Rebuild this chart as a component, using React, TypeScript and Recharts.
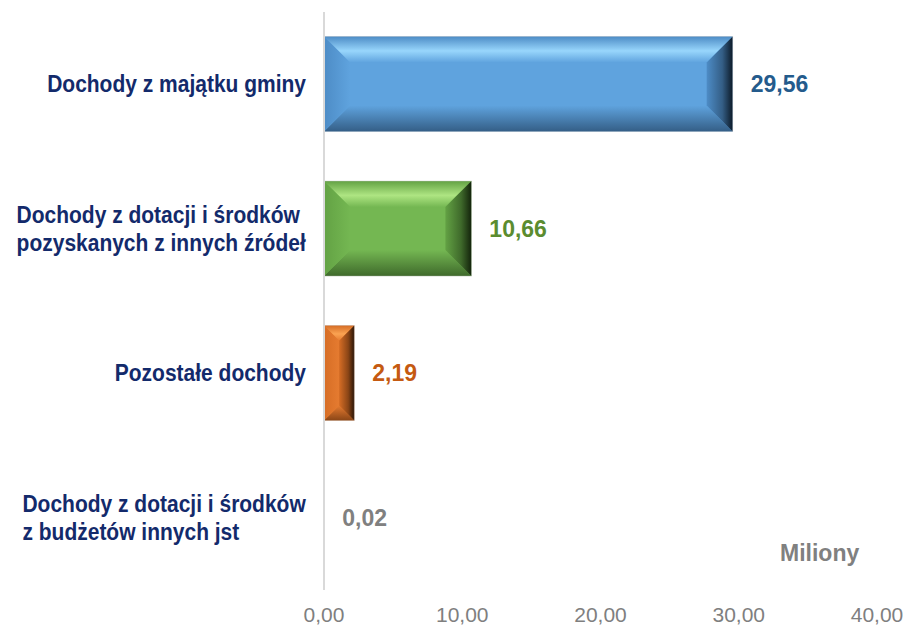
import React from 'react'
import { BarChart, Bar, XAxis, YAxis, LabelList } from 'recharts'

// category names ("\n" = line break in the axis label)
const categories = [
  'Dochody z majątku gminy',
  'Dochody z dotacji i środków\npozyskanych z innych źródeł',
  'Pozostałe dochody',
  'Dochody z dotacji i środków\nz budżetów innych jst',
]
const values = [29.56, 10.66, 2.19, 0.02]
const xTicks = [0, 10, 20, 30, 40]
const unitLabel = 'Miliony'

const FONT = "Arial, 'Liberation Sans', sans-serif"

const palette = [
  { main: '#5fa3de', light: '#98d6fc', edge: '#4d8cc6', dark: '#345e86', deep: '#0c1a28', text: '#245b8c' },
  { main: '#74b752', light: '#aee582', edge: '#63a244', dark: '#3f6a2b', deep: '#13230b', text: '#5b8c2f' },
  { main: '#e57b30', light: '#fba352', edge: '#d66d25', dark: '#8a4516', deep: '#2a1406', text: '#c55a11' },
  { main: '#a6a6a6', light: '#cfcfcf', edge: '#999', dark: '#666', deep: '#222', text: '#808080' },
]

const data = categories.map((name, i) => ({ name, value: values[i] }))

const fmt = (v: number) => v.toFixed(2).replace('.', ',')

let measureCtx: CanvasRenderingContext2D | null = null
const textWidth = (s: string, font: string) => {
  if (!measureCtx) measureCtx = document.createElement('canvas').getContext('2d')
  if (!measureCtx) return s.length * 11
  measureCtx.font = font
  return measureCtx.measureText(s).width
}

const BevelBar = (props: any) => {
  const { x, y, width, height, index } = props
  if (!width || width < 1) return null
  const c = palette[index]
  const b = Math.min(26, width / 2, height / 2)
  const id = `bev${index}`
  const r = x + width
  const bt = y + height
  return (
    <g>
      <defs>
        <linearGradient id={`${id}t`} x1="0" y1="0" x2="0" y2="1">
          <stop offset="0%" stopColor={c.edge} />
          <stop offset="55%" stopColor={c.light} />
          <stop offset="100%" stopColor={c.main} />
        </linearGradient>
        <linearGradient id={`${id}b`} x1="0" y1="0" x2="0" y2="1">
          <stop offset="0%" stopColor={c.main} />
          <stop offset="100%" stopColor={c.dark} />
        </linearGradient>
        <linearGradient id={`${id}l`} x1="0" y1="0" x2="1" y2="0">
          <stop offset="0%" stopColor={c.edge} />
          <stop offset="100%" stopColor={c.main} />
        </linearGradient>
        <linearGradient id={`${id}r`} x1="0" y1="0" x2="1" y2="0">
          <stop offset="0%" stopColor={c.edge} />
          <stop offset="60%" stopColor={c.dark} />
          <stop offset="100%" stopColor={c.deep} />
        </linearGradient>
      </defs>
      <rect x={x} y={y} width={width} height={height} fill={c.main} />
      <polygon points={`${x},${y} ${r},${y} ${r - b},${y + b} ${x + b},${y + b}`} fill={`url(#${id}t)`} />
      <polygon points={`${x},${bt} ${r},${bt} ${r - b},${bt - b} ${x + b},${bt - b}`} fill={`url(#${id}b)`} />
      <polygon points={`${x},${y} ${x + b},${y + b} ${x + b},${bt - b} ${x},${bt}`} fill={`url(#${id}l)`} />
      <polygon points={`${r},${y} ${r - b},${y + b} ${r - b},${bt - b} ${r},${bt}`} fill={`url(#${id}r)`} />
      <rect x={x} y={y} width={width} height={height} fill="none" stroke="#bfbfbf" strokeOpacity={0.5} strokeWidth={0.8} />
    </g>
  )
}

// multi-line labels: block right-aligned to the axis, lines left-aligned inside it
const CategoryTick = (props: any) => {
  const { y, payload } = props
  const lines = String(payload.value).split('\n')
  const lh = 28
  const right = 306
  const widest = Math.max(...lines.map((l) => textWidth(l, `bold 21px ${FONT}`)))
  const left = right - widest
  const start = y - ((lines.length - 1) * lh) / 2
  const multi = lines.length > 1
  return (
    <g transform={`translate(0 ${y}) scale(1 1.15) translate(0 ${-y})`}>
      <text
        textAnchor={multi ? 'start' : 'end'}
        fill="#132a6b"
        fontSize={21}
        fontWeight="bold"
        fontFamily={FONT}
      >
        {lines.map((l, i) => (
          <tspan key={i} x={multi ? left : right} y={y + (start - y + i * lh) / 1.15 + 7}>
            {l}
          </tspan>
        ))}
      </text>
    </g>
  )
}

const XTick = (props: any) => {
  const { x, payload } = props
  return (
    <text x={x} y={622} textAnchor="middle" fill="#7f7f7f" fontSize={21} fontFamily={FONT}>
      {fmt(payload.value)}
    </text>
  )
}

const ValueLabel = (props: any) => {
  const { x, y, width, height, value, index } = props
  return (
    <text
      x={x + width + 18}
      y={y + height / 2 + 8}
      fill={palette[index].text}
      fontSize={23}
      fontWeight="bold"
      fontFamily={FONT}
    >
      {fmt(value)}
    </text>
  )
}

const App = () => {
  return (
    <div style={{ position: 'absolute', left: 0, top: 0, width: 913, height: 628, background: '#fff' }}>
      <BarChart
        width={913}
        height={628}
        data={data}
        layout="vertical"
        margin={{ top: 12, right: 36, bottom: 0, left: 0 }}
        barCategoryGap="17%"
      >
        <XAxis
          type="number"
          domain={[0, 40]}
          ticks={xTicks}
          axisLine={false}
          tickLine={false}
          height={38}
          interval={0}
          tick={<XTick />}
        />
        <YAxis
          type="category"
          dataKey="name"
          width={324}
          axisLine={{ stroke: '#d9d9d9', strokeWidth: 2 }}
          tickLine={false}
          tick={<CategoryTick />}
          interval={0}
        />
        <Bar dataKey="value" shape={<BevelBar />} isAnimationActive={false}>
          <LabelList dataKey="value" content={<ValueLabel />} />
        </Bar>
      </BarChart>
      <div
        style={{
          position: 'absolute',
          left: 780,
          top: 540,
          fontFamily: FONT,
          fontWeight: 'bold',
          fontSize: 23,
          color: '#808080',
        }}
      >
        {unitLabel}
      </div>
    </div>
  )
}

export default App
